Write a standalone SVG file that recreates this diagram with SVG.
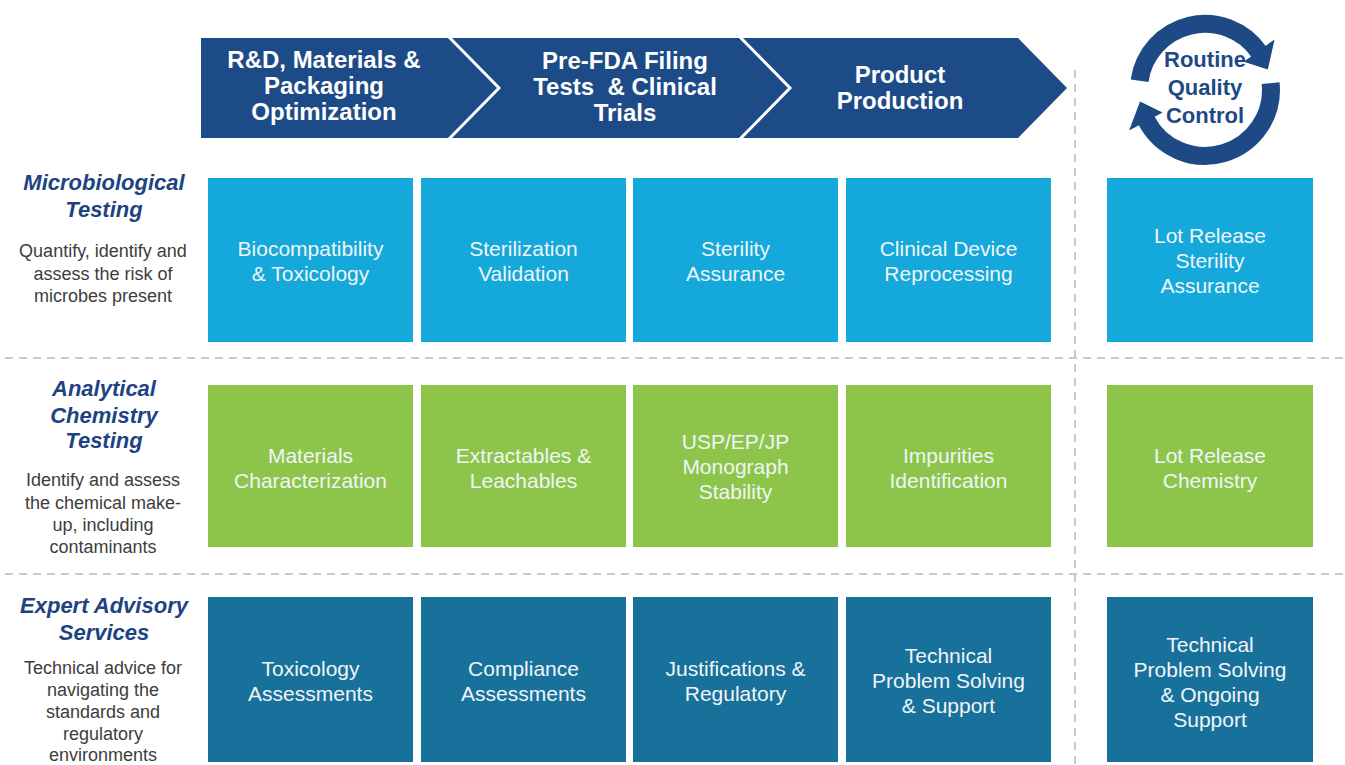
<svg xmlns="http://www.w3.org/2000/svg" width="1345" height="765" viewBox="0 0 1345 765">
<style>
.bt{font-family:"Liberation Sans",Arial,sans-serif;font-size:24px;font-weight:bold;fill:#ffffff;text-anchor:middle}
.ct{font-family:"Liberation Sans",Arial,sans-serif;font-size:22px;font-weight:bold;fill:#1d4a85;text-anchor:middle}
.hd{font-family:"Liberation Sans",Arial,sans-serif;font-size:22px;font-weight:bold;font-style:italic;fill:#1e4382;text-anchor:middle}
.ds{font-family:"Liberation Sans",Arial,sans-serif;font-size:18px;fill:#3d3d3d;text-anchor:middle}
.tx{font-family:"Liberation Sans",Arial,sans-serif;font-size:21px;fill:#f0f5f8;text-anchor:middle}
.r1{fill:#14a8db}
.r2{fill:#8cc54a}
.r3{fill:#18719a}
.dash{stroke:#c9c9c9;stroke-width:2;stroke-dasharray:8 6;fill:none}
.ring{stroke:#1d4a85;stroke-width:18;fill:none}
.ah{fill:#1d4a85}
</style>
<rect x="0" y="0" width="1345" height="765" fill="#ffffff"/>

<g id="separators">
<line class="dash" x1="5" y1="358" x2="1345" y2="358"/>
<line class="dash" x1="5" y1="574" x2="1345" y2="574"/>
<line class="dash" x1="1075" y1="70" x2="1075" y2="765"/>
</g>

<g id="banner">
<polygon points="201,38 1018,38 1067,88 1018,138 201,138" fill="#1c4b87"/>
<polyline points="449,37 499,88 449,139" fill="none" stroke="#ffffff" stroke-width="3"/>
<polyline points="740,37 790,88 740,139" fill="none" stroke="#ffffff" stroke-width="3"/>
</g>
<g id="stage-rd">
<text class="bt" x="324" y="68">R&amp;D, Materials &amp;</text>
<text class="bt" x="324" y="94">Packaging</text>
<text class="bt" x="324" y="120">Optimization</text>
</g>
<g id="stage-prefda">
<text class="bt" x="625" y="69">Pre-FDA Filing</text>
<text class="bt" x="625" y="95" xml:space="preserve">Tests  &amp; Clinical</text>
<text class="bt" x="625" y="121">Trials</text>
</g>
<g id="stage-production">
<text class="bt" x="900" y="83">Product</text>
<text class="bt" x="900" y="109">Production</text>
</g>

<g id="routine-qc">
<path class="ring" d="M1139.6,80.8 A66,66 0 0 1 1259.1,52.1"/>
<polygon class="ah" points="1243.8,61.8 1274.6,39.4 1267.8,69.6"/>
<path class="ring" d="M1270.6,83.1 A66,66 0 0 1 1146.2,120.0"/>
<polygon class="ah" points="1162.6,112.5 1129.1,130.4 1140.0,101.5"/>
<text class="ct" x="1205" y="67">Routine</text>
<text class="ct" x="1205" y="95">Quality</text>
<text class="ct" x="1205" y="123">Control</text>
</g>

<g id="label-micro">
<text class="hd" x="104" y="190">Microbiological</text>
<text class="hd" x="104" y="217">Testing</text>
<text class="ds" x="103" y="257">Quantify, identify and</text>
<text class="ds" x="103" y="280">assess the risk of</text>
<text class="ds" x="103" y="302">microbes present</text>
</g>
<g id="label-chem">
<text class="hd" x="104" y="396">Analytical</text>
<text class="hd" x="104" y="423">Chemistry</text>
<text class="hd" x="104" y="448">Testing</text>
<text class="ds" x="103" y="486">Identify and assess</text>
<text class="ds" x="103" y="509">the chemical make-</text>
<text class="ds" x="103" y="531">up, including</text>
<text class="ds" x="103" y="553">contaminants</text>
</g>
<g id="label-expert">
<text class="hd" x="104" y="613">Expert Advisory</text>
<text class="hd" x="104" y="640">Services</text>
<text class="ds" x="103" y="674">Technical advice for</text>
<text class="ds" x="103" y="696">navigating the</text>
<text class="ds" x="103" y="718">standards and</text>
<text class="ds" x="103" y="740">regulatory</text>
<text class="ds" x="103" y="761">environments</text>
</g>

<g id="m1"><rect class="r1" x="208" y="178" width="205" height="164"/>
<text class="tx" x="310.5" y="256">Biocompatibility</text><text class="tx" x="310.5" y="281">&amp; Toxicology</text></g>
<g id="m2"><rect class="r1" x="421" y="178" width="205" height="164"/>
<text class="tx" x="523.5" y="256">Sterilization</text><text class="tx" x="523.5" y="281">Validation</text></g>
<g id="m3"><rect class="r1" x="633" y="178" width="205" height="164"/>
<text class="tx" x="735.5" y="256">Sterility</text><text class="tx" x="735.5" y="281">Assurance</text></g>
<g id="m4"><rect class="r1" x="846" y="178" width="205" height="164"/>
<text class="tx" x="948.5" y="256">Clinical Device</text><text class="tx" x="948.5" y="281">Reprocessing</text></g>
<g id="m5"><rect class="r1" x="1107" y="178" width="206" height="164"/>
<text class="tx" x="1210" y="243">Lot Release</text><text class="tx" x="1210" y="268">Sterility</text><text class="tx" x="1210" y="293">Assurance</text></g>

<g id="c1"><rect class="r2" x="208" y="385" width="205" height="162"/>
<text class="tx" x="310.5" y="463">Materials</text><text class="tx" x="310.5" y="488">Characterization</text></g>
<g id="c2"><rect class="r2" x="421" y="385" width="205" height="162"/>
<text class="tx" x="523.5" y="463">Extractables &amp;</text><text class="tx" x="523.5" y="488">Leachables</text></g>
<g id="c3"><rect class="r2" x="633" y="385" width="205" height="162"/>
<text class="tx" x="735.5" y="449">USP/EP/JP</text><text class="tx" x="735.5" y="474">Monograph</text><text class="tx" x="735.5" y="499">Stability</text></g>
<g id="c4"><rect class="r2" x="846" y="385" width="205" height="162"/>
<text class="tx" x="948.5" y="463">Impurities</text><text class="tx" x="948.5" y="488">Identification</text></g>
<g id="c5"><rect class="r2" x="1107" y="385" width="206" height="162"/>
<text class="tx" x="1210" y="463">Lot Release</text><text class="tx" x="1210" y="488">Chemistry</text></g>

<g id="e1"><rect class="r3" x="208" y="597" width="205" height="165"/>
<text class="tx" x="310.5" y="676">Toxicology</text><text class="tx" x="310.5" y="701">Assessments</text></g>
<g id="e2"><rect class="r3" x="421" y="597" width="205" height="165"/>
<text class="tx" x="523.5" y="676">Compliance</text><text class="tx" x="523.5" y="701">Assessments</text></g>
<g id="e3"><rect class="r3" x="633" y="597" width="205" height="165"/>
<text class="tx" x="735.5" y="676">Justifications &amp;</text><text class="tx" x="735.5" y="701">Regulatory</text></g>
<g id="e4"><rect class="r3" x="846" y="597" width="205" height="165"/>
<text class="tx" x="948.5" y="663">Technical</text><text class="tx" x="948.5" y="688">Problem Solving</text><text class="tx" x="948.5" y="713">&amp; Support</text></g>
<g id="e5"><rect class="r3" x="1107" y="597" width="206" height="165"/>
<text class="tx" x="1210" y="652">Technical</text><text class="tx" x="1210" y="677">Problem Solving</text><text class="tx" x="1210" y="702">&amp; Ongoing</text><text class="tx" x="1210" y="727">Support</text></g>
</svg>
